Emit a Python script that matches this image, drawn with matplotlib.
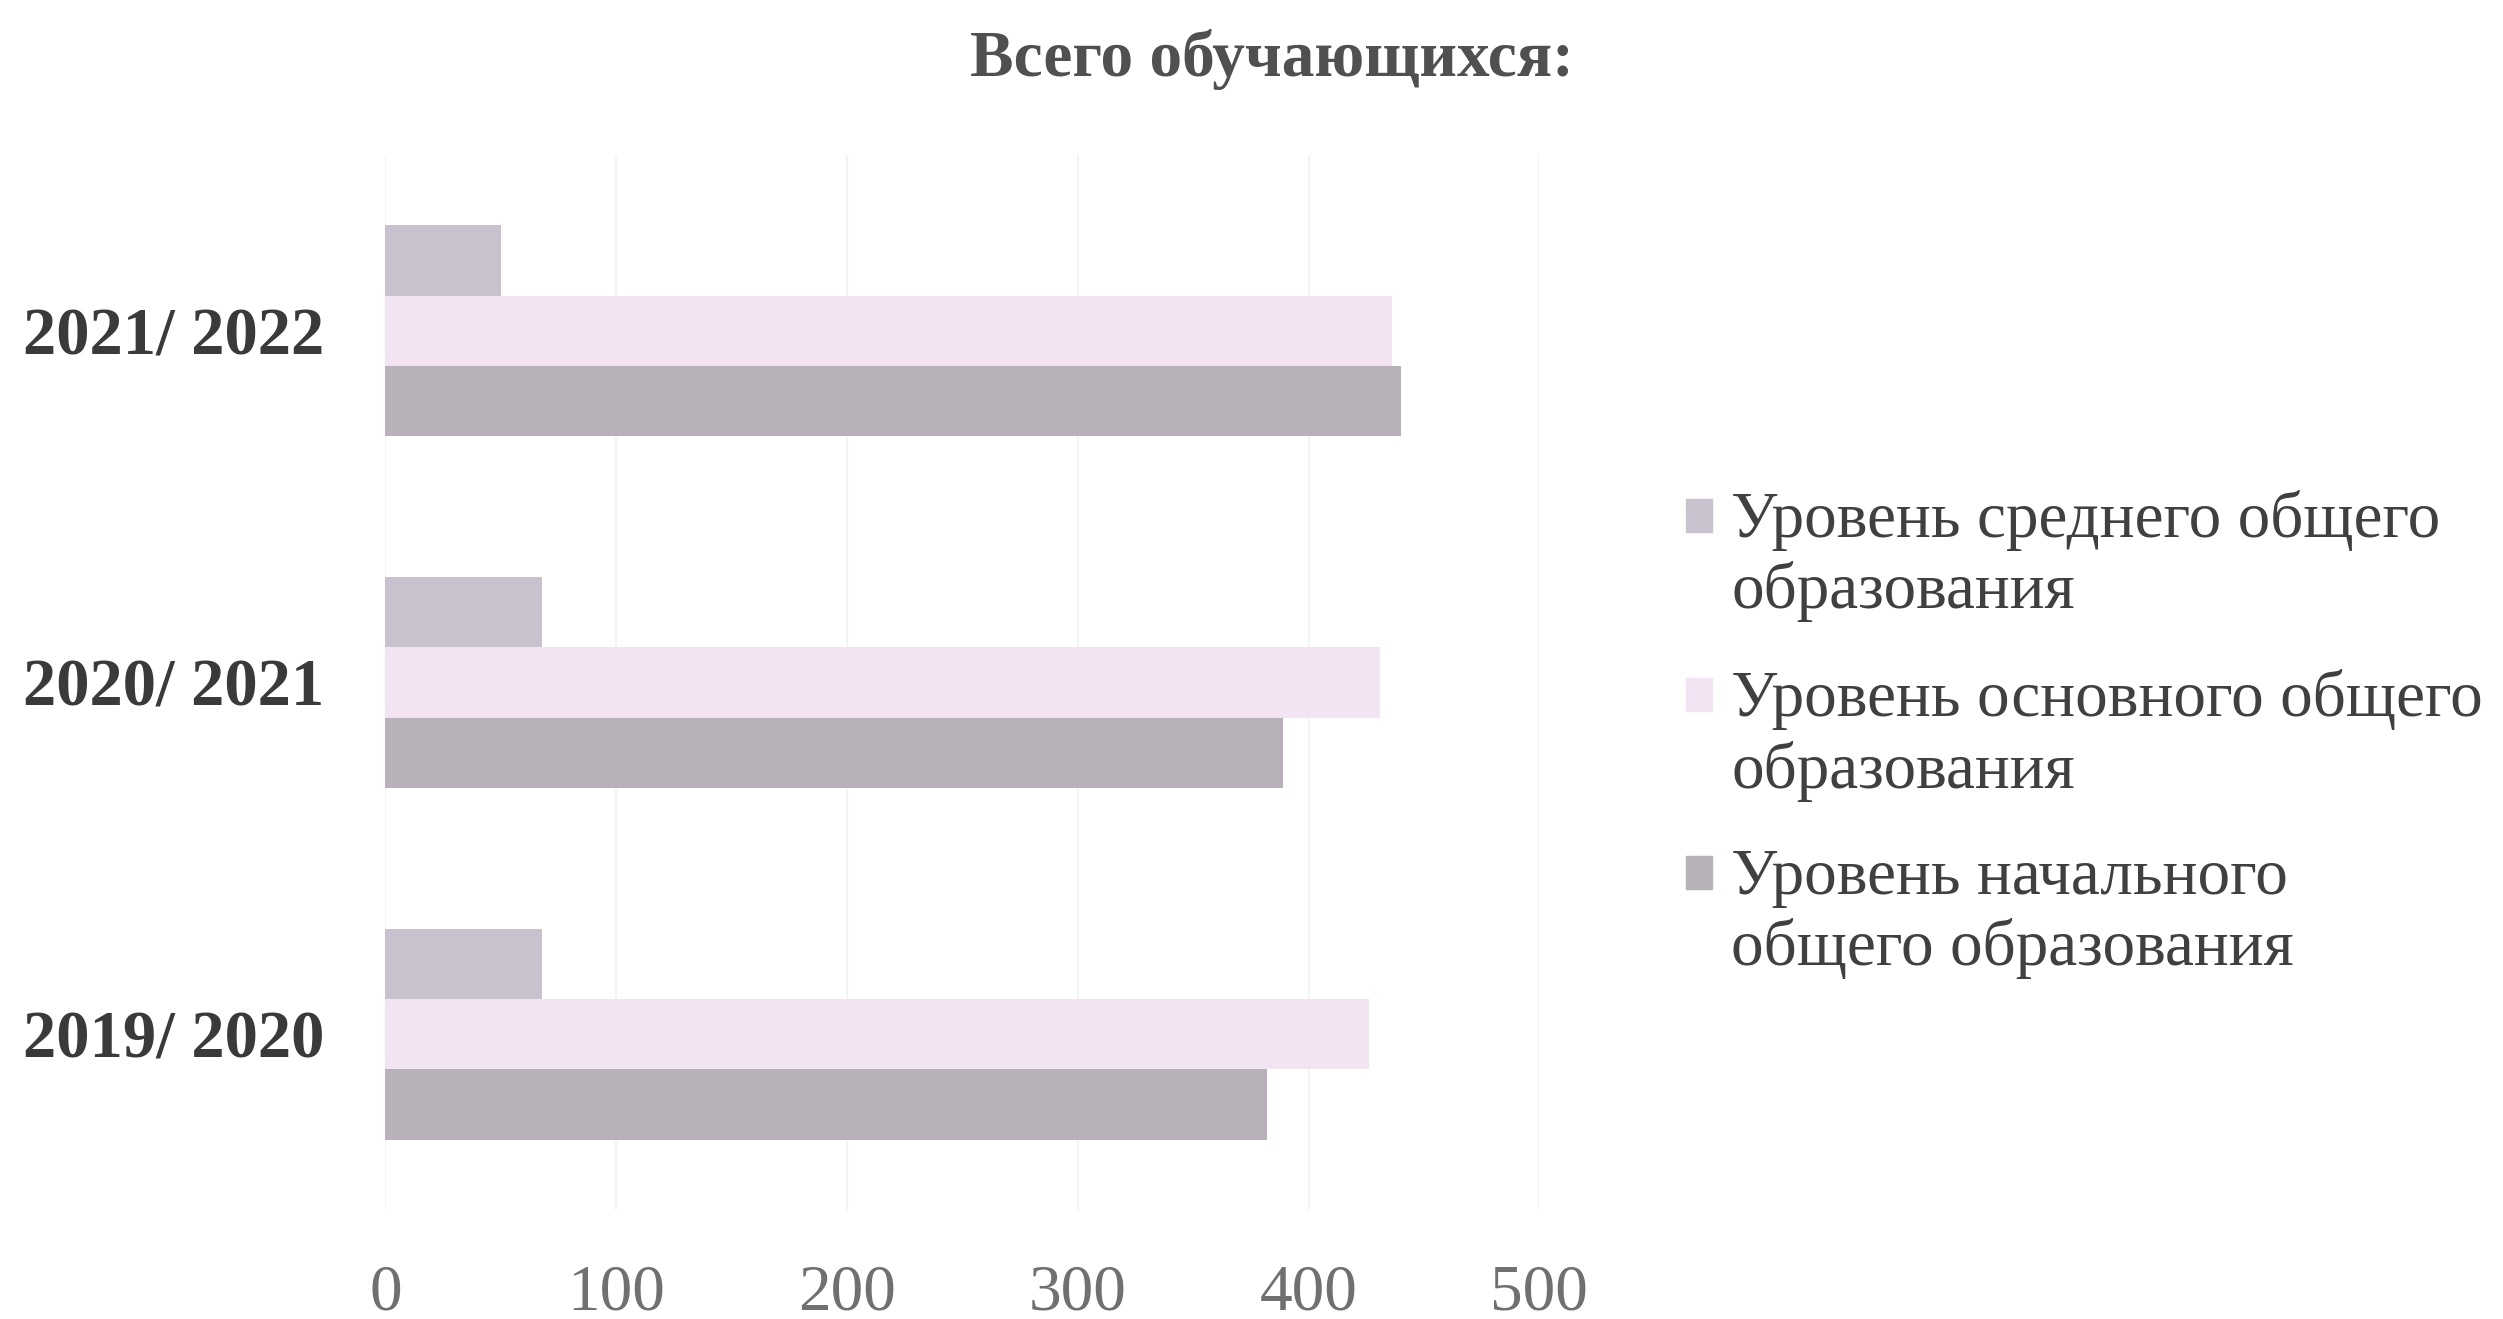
import matplotlib.pyplot as plt
import matplotlib.patches as mpatches
from matplotlib.legend_handler import HandlerPatch
import numpy as np

# данные
years = ['2019/ 2020', '2020/ 2021', '2021/ 2022']
secondary = [68, 68, 50]     # Уровень среднего общего образования
basic = [426, 431, 436]      # Уровень основного общего образования
primary = [382, 389, 440]    # Уровень начального общего образования
series_labels = ['Уровень среднего общего\nобразования',
                 'Уровень основного общего\nобразования',
                 'Уровень начального\nобщего образования']
x_ticks = [0, 100, 200, 300, 400, 500]

plt.rcParams['font.family'] = ['Liberation Serif', 'DejaVu Serif']


def top_square(legend, orig_handle, xdescent, ydescent, width, height, fontsize):
    # маркер легенды на уровне первой строки подписи
    return mpatches.Rectangle((-xdescent, -ydescent + 0.62 * fontsize), width, height)


fig = plt.figure(figsize=(25.03, 13.19), dpi=100)
ax = fig.add_axes([0.154, 0.0826, 0.461, 0.80])

y = np.arange(len(years))
h = 0.2
colors = ['#c8c2ce', '#f2e4f2', '#b8b1ba']
b1 = ax.barh(y + h, secondary, height=h, color=colors[0])
b2 = ax.barh(y, basic, height=h, color=colors[1])
b3 = ax.barh(y - h, primary, height=h, color=colors[2])

ax.set_xlim(0, 500)
ax.set_ylim(-0.5, 2.5)
ax.set_xticks(x_ticks)
ax.set_yticks(y)
ax.set_yticklabels(years, fontsize=48, fontweight='bold', color='#3a3a3a')
ax.tick_params(axis='x', labelsize=47, colors='#707070', length=0, pad=39)
ax.tick_params(axis='y', length=0, pad=44)
for s in ax.spines.values():
    s.set_visible(False)
ax.grid(axis='x', color='#f3f3f3', linewidth=1.5)
ax.set_axisbelow(True)

fig.text(0.508, 0.955, 'Всего обучающихся:', ha='center', va='center',
         fontsize=47, fontweight='bold', color='#505050')

handles = [mpatches.Patch(color=c) for c in colors]
leg = fig.legend(handles, series_labels, loc='center left',
                 bbox_to_anchor=(0.65, 0.443), frameon=False, fontsize=47,
                 handlelength=0.4, handleheight=0.4, handletextpad=0.3,
                 labelspacing=0.72,
                 handler_map={mpatches.Patch: HandlerPatch(patch_func=top_square)})
for t in leg.get_texts():
    t.set_color('#404040')
    t.set_linespacing(1.22)

fig.savefig('out.png', dpi=100)
